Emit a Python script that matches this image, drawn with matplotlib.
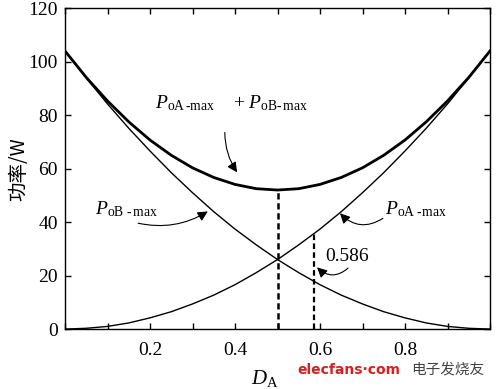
import matplotlib
matplotlib.use("Agg")
import matplotlib.pyplot as plt
from matplotlib.ticker import FixedLocator, FixedFormatter

# ---- data ----
duty = [0.00, 0.05, 0.10, 0.15, 0.20, 0.25, 0.30, 0.35, 0.40, 0.45, 0.50,
        0.55, 0.60, 0.65, 0.70, 0.75, 0.80, 0.85, 0.90, 0.95, 1.00]
p_oA = [0.0, 0.3, 1.0, 2.3, 4.2, 6.5, 9.4, 12.7, 16.6, 21.1, 26.0,
        31.5, 37.4, 43.9, 51.0, 58.5, 66.6, 75.1, 84.2, 93.9, 104.0]
p_oB = [104.0, 93.9, 84.2, 75.1, 66.6, 58.5, 51.0, 43.9, 37.4, 31.5, 26.0,
        21.1, 16.6, 12.7, 9.4, 6.5, 4.2, 2.3, 1.0, 0.3, 0.0]
p_sum = [104.0, 94.1, 85.3, 77.5, 70.7, 65.0, 60.3, 56.7, 54.1, 52.5, 52.0,
         52.5, 54.1, 56.7, 60.3, 65.0, 70.7, 77.5, 85.3, 94.1, 104.0]

d_min = 0.5
p_min = 52.0
d_opt = 0.586
p_opt = 35.7

x_ticklabels = ["", "", "0.2", "", "0.4", "", "0.6", "", "0.8", "", ""]
y_ticks = [0, 20, 40, 60, 80, 100, 120]

serif = "Liberation Serif"
plt.rcParams["font.family"] = [serif, "DejaVu Serif"]
plt.rcParams["mathtext.fontset"] = "custom"
plt.rcParams["mathtext.rm"] = serif
plt.rcParams["mathtext.it"] = serif + ":italic"

fig = plt.figure(figsize=(5.0, 3.89), dpi=100)
ax = fig.add_axes([0.13, 0.154, 0.85, 0.825])

ax.plot(duty, p_sum, color="black", lw=2.0)
ax.plot(duty, p_oA, color="black", lw=1.0)
ax.plot(duty, p_oB, color="black", lw=1.0)
ax.plot([d_min, d_min], [0, p_min], color="black", lw=1.8, ls=(0, (2.5, 1.5)))
ax.plot([d_opt, d_opt], [0, p_opt], color="black", lw=1.6, ls=(0, (2.5, 1.5)))

ax.set_xlim(0, 1)
ax.set_ylim(0, 120)

ax.xaxis.set_major_locator(FixedLocator([i / 10 for i in range(11)]))
ax.xaxis.set_major_formatter(FixedFormatter(x_ticklabels))
ax.set_yticks(y_ticks)
ax.tick_params(direction="in", length=4, width=1, top=True, right=True,
               labelsize=14)
ax.tick_params(axis="x", pad=9)
ax.tick_params(axis="y", pad=5)
for s in ax.spines.values():
    s.set_linewidth(1.0)

ax.set_ylabel("功率/W", fontsize=14, family=["Noto Sans CJK SC", serif])
ax.yaxis.set_label_coords(-0.085, 0.5)
ax.set_xlabel(r"$D_{\mathrm{A}}$", fontsize=15)
ax.xaxis.set_label_coords(0.47, -0.12)

arrow_kw = dict(arrowstyle="-|>,head_length=0.6,head_width=0.3",
                color="black", lw=0.8, shrinkA=0, shrinkB=0)

# sum label
ax.text(0.212, 84.5, r"$P_{\mathrm{oA\,\text{-}max}}$", fontsize=14, va="center")
ax.text(0.395, 84.5, r"$+\ P_{\mathrm{oB\text{-}\,max}}$", fontsize=14, va="center")
ax.annotate("", xy=(0.405, 58.6), xytext=(0.376, 73.5),
            arrowprops=dict(connectionstyle="arc3,rad=0.15", **arrow_kw))

# PoB label
ax.text(0.071, 45.0, r"$P_{\mathrm{oB\ \text{-}\,max}}$", fontsize=14, va="center")
ax.annotate("", xy=(0.336, 44.0), xytext=(0.172, 39.6),
            arrowprops=dict(connectionstyle="arc3,rad=0.2", **arrow_kw))

# PoA label
ax.text(0.753, 45.0, r"$P_{\mathrm{oA\ \text{-}max}}$", fontsize=14, va="center")
ax.annotate("", xy=(0.647, 43.3), xytext=(0.748, 41.4),
            arrowprops=dict(connectionstyle="arc3,rad=-0.4", **arrow_kw))

# 0.586 label
ax.text(0.612, 27.0, "0.586", fontsize=14, va="center")
ax.annotate("", xy=(0.593, 23.1), xytext=(0.666, 22.8),
            arrowprops=dict(connectionstyle="arc3,rad=-0.45", **arrow_kw))

# watermark
fig.text(0.594, 0.049, "elecfans·com", color="#d6201f", fontsize=10,
         fontweight="bold", family="DejaVu Sans", va="center")
fig.text(0.822, 0.049, "电子发烧友", color="#444444", fontsize=10.5,
         family=["Noto Sans CJK SC", "DejaVu Sans"], va="center")

fig.savefig("out.png", dpi=100)
